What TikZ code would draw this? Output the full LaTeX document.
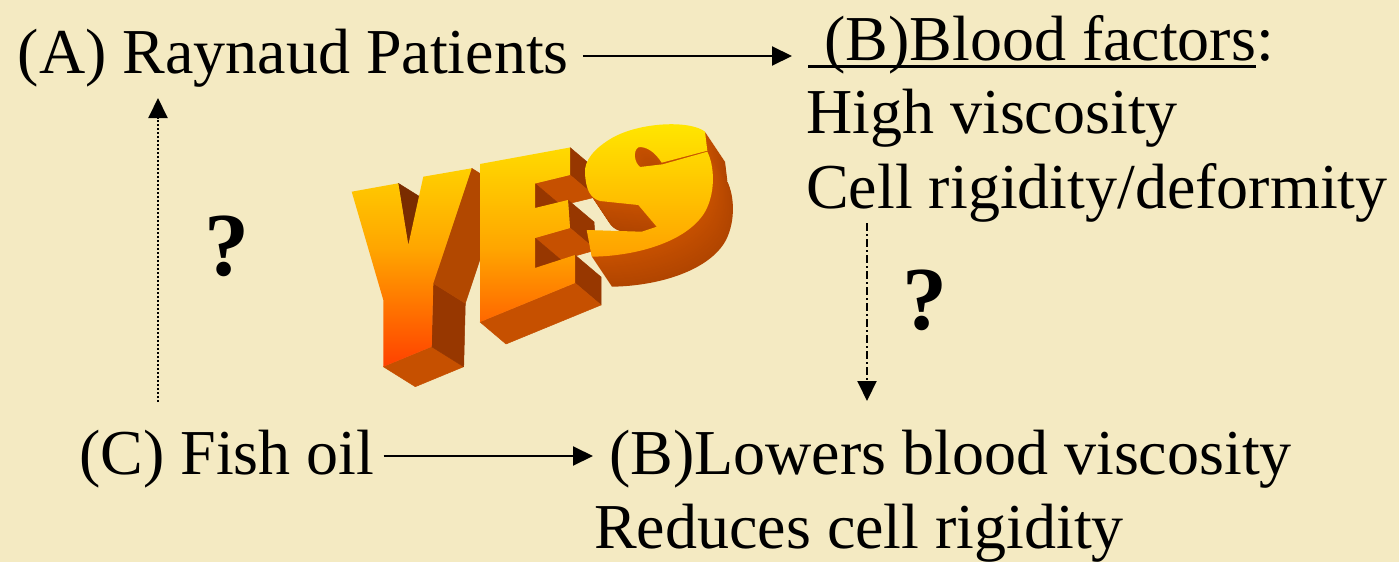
\documentclass[tikz,border=0pt]{standalone}
\usepackage{fontspec}
\setmainfont{Liberation Serif}
\usetikzlibrary{arrows.meta,calc}
\definecolor{bg}{HTML}{F4EAC2}
\definecolor{extA}{HTML}{C65000}
\definecolor{extB}{HTML}{973700}
\definecolor{extC}{HTML}{7A2C00}
\definecolor{gTop}{HTML}{FFE800}
\definecolor{gMid}{HTML}{FFA600}
\definecolor{gBot}{HTML}{FF3A00}
\tikzset{
  txt/.style={anchor=base west,inner sep=0pt,font=\fontsize{64}{73}\selectfont},
  qm/.style={anchor=base,inner sep=0pt,font=\fontsize{90}{100}\selectfont\bfseries},
  conn/.style={line width=2pt,-{Triangle[length=20pt,width=19pt]}},
  side/.style={line width=0.5pt,line join=round},
  wordshade/.style={top color=gTop,bottom color=gBot,middle color=gMid},
  Spath/.style={insert path={(586.7,230) -- (591.7,256.7)
      .. controls (640,256) and (690,240) .. (706,210)
      .. controls (716,190) and (714,165) .. (707.3,151.7)
      -- (662.7,164.3) -- (640,167)
      .. controls (634,162) and (633,151) .. (638.3,147.3)
      .. controls (646,146) and (655,152) .. (661.7,162.7)
      -- (707.3,150.7) -- (705,131.7)
      .. controls (690,120) and (640,122) .. (612,138)
      .. controls (595,148) and (584,160) .. (585,173.3)
      .. controls (586,190) and (590,198) .. (600,201)
      -- (638.3,205) -- (656.7,226.7) -- (641.7,231.7) -- cycle}}
}
\begin{document}
\begin{tikzpicture}[x=1pt,y=-1pt]
\fill[bg] (0,0) rectangle (1399,562);
\useasboundingbox (0,0) rectangle (1399,562);

% ---------- YES word art ----------
% Y extrusion
\filldraw[side,fill=extC,draw=extC] (398.3,183.3) -- (408.3,245) -- (440.3,265) -- (430.3,203.3) -- cycle;
\filldraw[side,fill=extA,draw=extA] (383.3,366.7) -- (431.7,346.7) -- (463.7,366.7) -- (415.3,386.7) -- cycle;
\filldraw[side,fill=extB,draw=extB] (431.7,346.7) -- (433.3,283.3) -- (465.3,303.3) -- (463.7,366.7) -- cycle;
\filldraw[side,fill=extA!90!black,draw=extA!90!black] (433.3,283.3) -- (471.7,168.3) -- (503.7,188.3) -- (465.3,303.3) -- cycle;
% Y front
\begin{scope}
\clip (351.7,191.7) -- (398.3,183.3) -- (408.3,245) -- (423.3,176.7) -- (471.7,168.3) -- (433.3,283.3) -- (431.7,346.7) -- (383.3,366.7) -- (383.3,300) -- cycle;
\shade[wordshade] (340,120) rectangle (740,375);
\end{scope}
% E extrusion
\filldraw[side,fill=extB,draw=extB] (570,147.5) -- (570,175) -- (596,197) -- (596,169.5) -- cycle;
\filldraw[side,fill=extA,draw=extA] (570,175) -- (535,183.5) -- (561,205.5) -- (596,197) -- cycle;
\filldraw[side,fill=extB,draw=extB] (535,183.5) -- (535,208) -- (561,230) -- (561,205.5) -- cycle;
\filldraw[side,fill=extB,draw=extB] (568,200) -- (570,228) -- (596,250) -- (594,222) -- cycle;
\filldraw[side,fill=extA,draw=extA] (570,228) -- (535,238) -- (561,260) -- (596,250) -- cycle;
\filldraw[side,fill=extB,draw=extB] (535,238) -- (535,268) -- (561,290) -- (561,260) -- cycle;
\filldraw[side,fill=extB,draw=extB] (575,255) -- (575,283) -- (601,305) -- (601,277) -- cycle;
\filldraw[side,fill=extA,draw=extA] (575,283) -- (480,322) -- (506,344) -- (601,305) -- cycle;
% E front
\begin{scope}
\clip (480,164) -- (570,147.5) -- (570,175) -- (535,183.5) -- (535,208) -- (568,200) -- (570,228) -- (535,238) -- (535,268) -- (575,255) -- (575,283) -- (480,322) -- cycle;
\shade[wordshade] (340,120) rectangle (740,375);
\end{scope}
% S extrusion (stacked copies)
\foreach \t in {30,...,1}{
  \pgfmathtruncatemacro{\pp}{100-int(1.5*\t)}
  \fill[extA!\pp!extB, shift={(\t*0.667,\t)}] [Spath];
}
% S front
\begin{scope}
\clip [Spath];
\shade[wordshade] (340,120) rectangle (740,375);
\end{scope}

% ---------- texts ----------
\node[txt] (A) at (17.5,73) {(A) Raynaud Patients};
\node[txt] (Bt) at (808,60) {\ (B)Blood factors};
\node[txt] (Bc) at (Bt.base east) {:};
\node[txt] (H) at (806,133) {High viscosity};
\node[txt] (Cl) at (806,208) {Cell rigidity/deformity};
\node[txt] (C) at (79,474) {(C) Fish oil};
\node[txt] (L) at (609,474) {(B)Lowers blood viscosity};
\node[txt] (R) at (594,548) {Reduces cell rigidity};
\node[qm] (q1) at (227,275) {?};
\node[qm] (q2) at (925,329) {?};

\draw[line width=3pt] ([yshift=-6pt]Bt.base west) -- ([yshift=-6pt]Bt.base east);

% ---------- connectors ----------
\draw[conn] ($(A.base east)+(14,-17)$) -- ($(Bt.base west)+(-16,-4)$);
\draw[conn] ($(C.base east)+(9,-18)$) -- ($(L.base west)+(-16,-18)$);
\draw[conn,dash pattern=on 8pt off 3pt on 2pt off 3pt] ($(Cl.base west)+(61,15)$) -- ($(L.base west)+(258,-73)$);
\draw[conn,dash pattern=on 2pt off 2pt] ($(C.base west)+(79,-72)$) -- ($(A.base west)+(140.5,25)$);
\end{tikzpicture}
\end{document}
